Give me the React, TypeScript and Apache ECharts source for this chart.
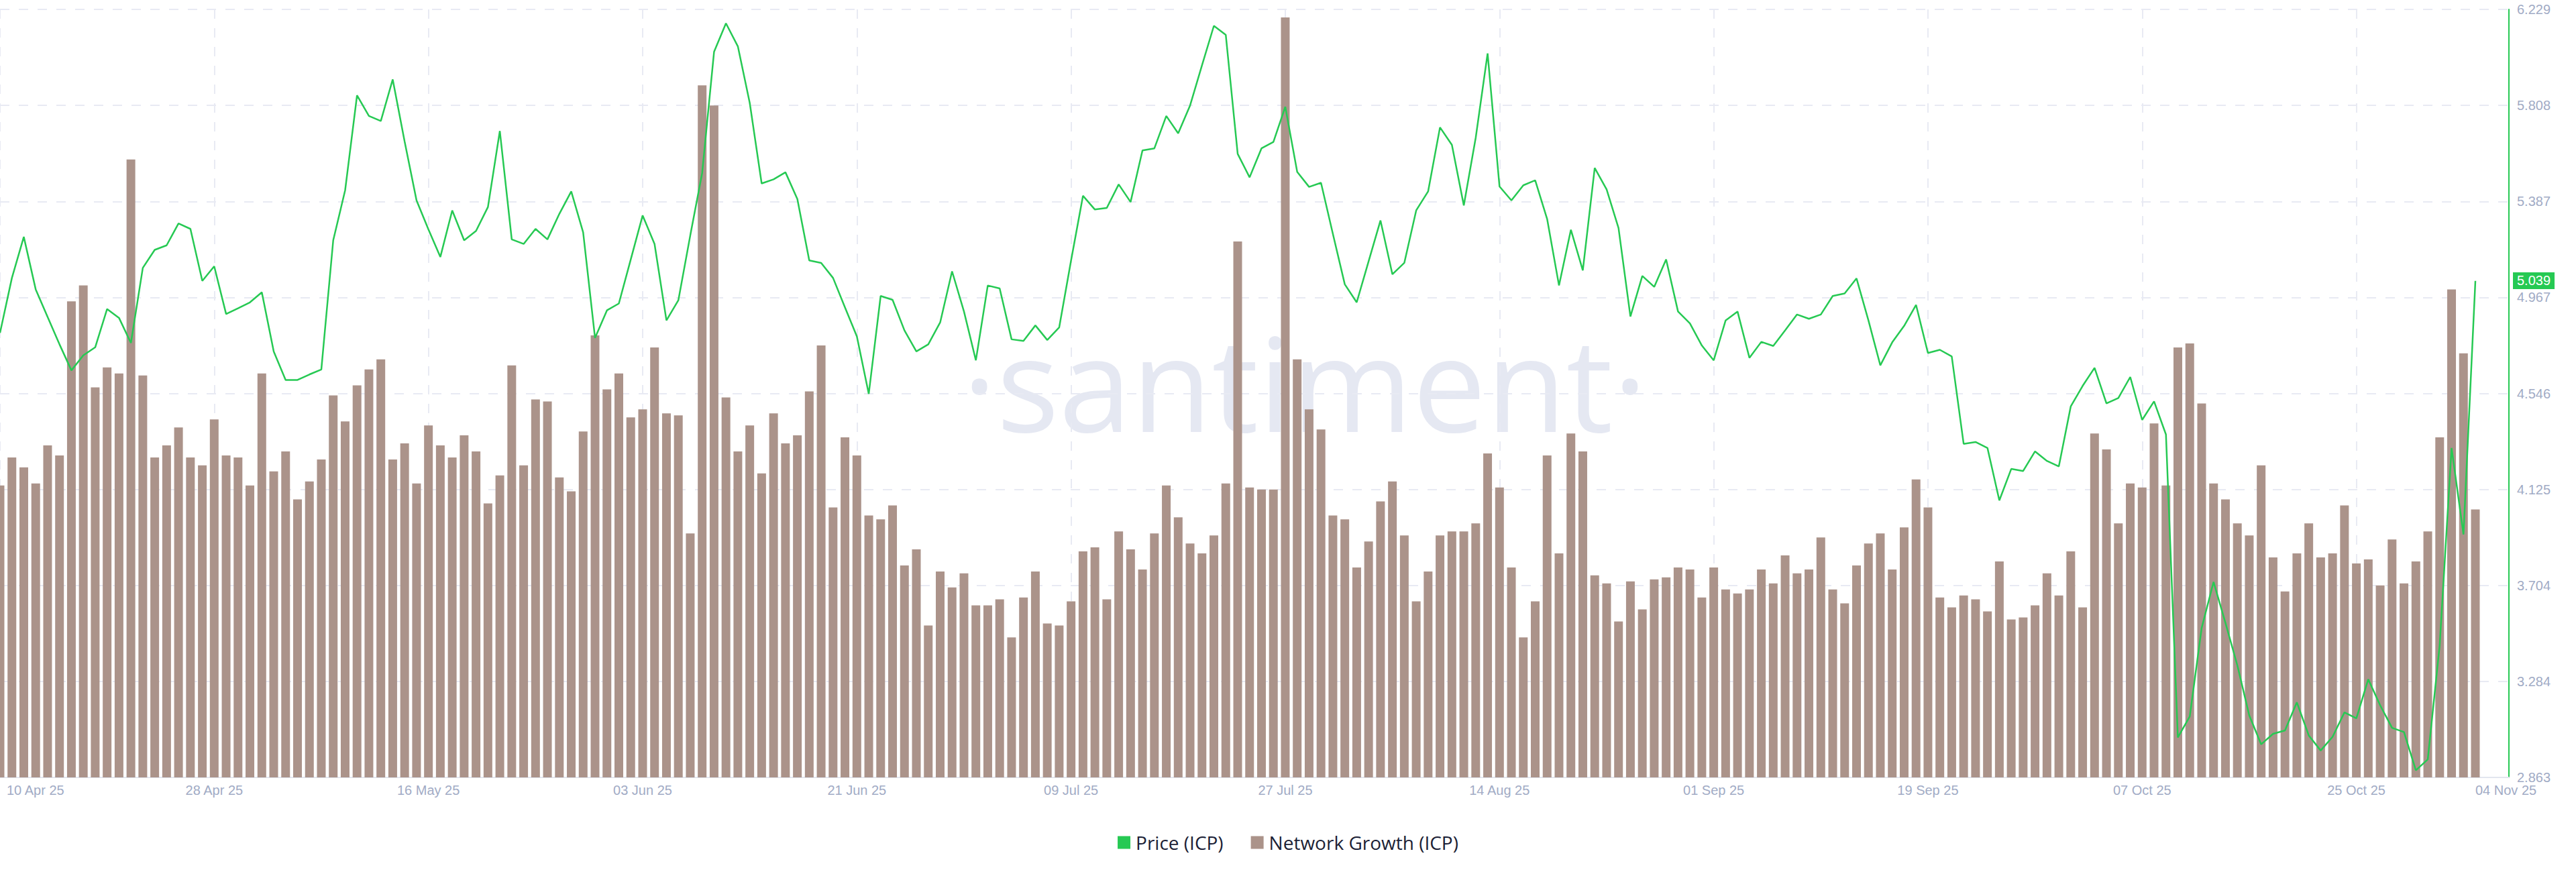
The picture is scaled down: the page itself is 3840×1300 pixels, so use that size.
import React, { useEffect, useRef } from 'react';
import * as echarts from 'echarts';

const START_DATE = Date.UTC(2025, 3, 10);
const DAY_COUNT = 209;
const MONTHS = ['Jan', 'Feb', 'Mar', 'Apr', 'May', 'Jun', 'Jul', 'Aug', 'Sep', 'Oct', 'Nov', 'Dec'];
const categories: string[] = Array.from({ length: DAY_COUNT }, (_, i) => {
  const d = new Date(START_DATE + i * 86400000);
  return `${String(d.getUTCDate()).padStart(2, '0')} ${MONTHS[d.getUTCMonth()]} ${String(d.getUTCFullYear()).slice(2)}`;
});

const priceICP: number[] = [
  4.811, 5.052, 5.232, 5.002, 4.881, 4.761, 4.647, 4.713, 4.748, 4.916,
  4.877, 4.767, 5.096, 5.175, 5.195, 5.291, 5.267, 5.039, 5.103, 4.894,
  4.919, 4.945, 4.989, 4.730, 4.605, 4.605, 4.629, 4.651, 5.217, 5.436,
  5.852, 5.762, 5.740, 5.922, 5.650, 5.392, 5.265, 5.144, 5.348, 5.217,
  5.258, 5.363, 5.696, 5.221, 5.201, 5.267, 5.221, 5.333, 5.431, 5.252,
  4.789, 4.910, 4.940, 5.133, 5.326, 5.201, 4.866, 4.954, 5.238, 5.512,
  6.043, 6.168, 6.067, 5.819, 5.466, 5.484, 5.515, 5.398, 5.129, 5.118,
  5.052, 4.923, 4.796, 4.544, 4.973, 4.956, 4.822, 4.730, 4.761, 4.857,
  5.081, 4.905, 4.691, 5.019, 5.006, 4.783, 4.776, 4.844, 4.780, 4.835,
  5.129, 5.412, 5.352, 5.359, 5.462, 5.385, 5.611, 5.620, 5.762, 5.686,
  5.808, 5.984, 6.157, 6.117, 5.596, 5.493, 5.620, 5.648, 5.802, 5.517,
  5.451, 5.469, 5.245, 5.024, 4.945, 5.125, 5.304, 5.068, 5.118, 5.348,
  5.431, 5.712, 5.635, 5.370, 5.666, 6.036, 5.453, 5.392, 5.458, 5.480,
  5.311, 5.019, 5.263, 5.085, 5.534, 5.440, 5.271, 4.883, 5.061, 5.013,
  5.133, 4.905, 4.853, 4.756, 4.691, 4.866, 4.905, 4.702, 4.772, 4.754,
  4.822, 4.892, 4.873, 4.892, 4.973, 4.984, 5.050, 4.866, 4.669, 4.770,
  4.842, 4.934, 4.723, 4.737, 4.708, 4.325, 4.333, 4.307, 4.077, 4.215,
  4.206, 4.292, 4.250, 4.226, 4.489, 4.579, 4.658, 4.502, 4.526, 4.618,
  4.430, 4.511, 4.366, 3.038, 3.130, 3.518, 3.720, 3.540, 3.354, 3.135,
  3.008, 3.054, 3.069, 3.192, 3.047, 2.981, 3.041, 3.148, 3.122, 3.293,
  3.179, 3.080, 3.062, 2.894, 2.942, 3.442, 4.307, 3.928, 5.039,
];

const networkGrowthICP: number[] = [
  146, 160, 155, 147, 166, 161, 238, 246, 195, 205,
  202, 309, 201, 160, 166, 175, 160, 156, 179, 161,
  160, 146, 202, 153, 163, 139, 148, 159, 191, 178,
  196, 204, 209, 159, 167, 147, 176, 166, 160, 171,
  163, 137, 151, 206, 156, 189, 188, 150, 143, 173,
  221, 194, 202, 180, 184, 215, 182, 181, 122, 346,
  336, 190, 163, 176, 152, 182, 167, 171, 193, 216,
  135, 170, 161, 131, 129, 136, 106, 114, 76, 103,
  95, 102, 86, 86, 89, 70, 90, 103, 77, 76,
  88, 113, 115, 89, 123, 114, 104, 122, 146, 130,
  117, 112, 121, 147, 268, 145, 144, 144, 380, 209,
  184, 174, 131, 129, 105, 118, 138, 148, 121, 88,
  103, 121, 123, 123, 127, 162, 145, 105, 70, 88,
  161, 112, 172, 163, 101, 97, 78, 98, 84, 99,
  100, 105, 104, 90, 105, 94, 92, 94, 104, 97,
  111, 102, 104, 120, 94, 87, 106, 117, 122, 104,
  125, 149, 135, 90, 85, 91, 89, 83, 108, 79,
  80, 86, 102, 91, 113, 85, 172, 164, 127, 147,
  145, 177, 146, 215, 217, 187, 147, 139, 127, 121,
  156, 110, 93, 112, 127, 110, 112, 136, 107, 109,
  96, 119, 97, 108, 123, 170, 244, 212, 134,
];

const priceTickLabels: string[] = ['2.863', '3.284', '3.704', '4.125', '4.546', '4.967', '5.387', '5.808', '6.229'];
const PRICE_MIN = 2.863;
const PRICE_MAX = 6.229;
const PRICE_STEP = (PRICE_MAX - PRICE_MIN) / 8;
const GROWTH_MAX = 384;
const LABEL_EVERY = 18;

const GREEN = '#26c953';
const BROWN = '#ab938a';
const AXIS_TEXT = '#a1abc5';
const GRID_LINE = '#e8eaf3';

export default function App() {
  const ref = useRef<HTMLDivElement>(null);
  useEffect(() => {
    if (!ref.current) return;
    const chart = echarts.init(ref.current, undefined, { renderer: 'svg' });
    const lastIdx = categories.length - 1;
    const lastPrice = priceICP[priceICP.length - 1];
    chart.setOption({
      animation: false,
      backgroundColor: '#ffffff',
      grid: [
        { left: 0, right: 150, top: 14, bottom: 141, outerBoundsMode: 'none', containLabel: false },
        { left: 0, right: 100, top: 14, bottom: 141, outerBoundsMode: 'none', containLabel: false },
      ],
      graphic: [
        {
          type: 'text',
          x: 1945,
          y: 568,
          z: -10,
          silent: true,
          style: {
            text: '·santiment·',
            fill: '#e5e8f2',
            font: '400 195px "Open Sans"',
            align: 'center',
            verticalAlign: 'middle',
            textAlign: 'center',
            textVerticalAlign: 'middle',
          },
        },
      ],
      legend: {
        data: ['Price (ICP)', 'Network Growth (ICP)'],
        left: 'center',
        top: 1237,
        icon: 'rect',
        itemWidth: 19,
        itemHeight: 19,
        itemGap: 41,
        selectedMode: false,
        textStyle: { color: '#1c1f36', fontSize: 28, fontFamily: 'Open Sans', padding: [0, 0, 0, 3] },
      },
      xAxis: [
        {
          type: 'category',
          gridIndex: 0,
          data: categories,
          boundaryGap: false,
          axisLine: { show: false },
          axisTick: { show: false },
          axisLabel: {
            interval: (i: number) => i % LABEL_EVERY === 0 || i === lastIdx,
            color: AXIS_TEXT,
            fontSize: 20,
            fontFamily: 'Liberation Sans, Arial, sans-serif',
            margin: 9,
            alignMinLabel: 'left',
            alignMaxLabel: 'left',
            hideOverlap: false,
            formatter: (v: string, i: number) => (i === 0 ? '{first|' + v + '}' : v),
            rich: { first: { padding: [0, 0, 0, 10], color: AXIS_TEXT, fontSize: 20, fontFamily: 'Liberation Sans, Arial, sans-serif' } },
          },
          splitLine: {
            show: true,
            interval: (i: number) => i % LABEL_EVERY === 0,
            lineStyle: { color: GRID_LINE, width: 2, type: [14, 14] },
          },
        },
        {
          type: 'value',
          gridIndex: 1,
          min: 0,
          max: 1,
          axisLine: { show: true, onZero: false, lineStyle: { color: '#e2e6ef', width: 2 } },
          axisTick: { show: false },
          axisLabel: { show: false },
          splitLine: { show: false },
        },
      ],
      yAxis: [
        {
          type: 'value',
          gridIndex: 0,
          position: 'right',
          offset: 50,
          min: PRICE_MIN,
          max: PRICE_MAX,
          interval: PRICE_STEP,
          axisLine: { show: true, lineStyle: { color: GREEN, width: 2 } },
          axisTick: { show: false },
          splitLine: { show: false },
          axisLabel: {
            color: AXIS_TEXT,
            fontSize: 20,
            fontFamily: 'Liberation Sans, Arial, sans-serif',
            margin: 12,
            formatter: (v: number) => priceTickLabels[Math.round((v - PRICE_MIN) / PRICE_STEP)] ?? '',
          },
        },
        { type: 'value', gridIndex: 0, position: 'left', min: 0, max: GROWTH_MAX, show: false, splitLine: { show: false } },
        {
          type: 'value',
          gridIndex: 1,
          position: 'right',
          min: PRICE_MIN,
          max: PRICE_MAX,
          interval: PRICE_STEP,
          axisLine: { show: false },
          axisTick: { show: false },
          axisLabel: { show: false },
          splitLine: { show: true, lineStyle: { color: GRID_LINE, width: 2, type: [14, 14] } },
        },
      ],
      series: [
        {
          name: 'Network Growth (ICP)',
          type: 'bar',
          xAxisIndex: 0,
          yAxisIndex: 1,
          data: networkGrowthICP,
          barWidth: 13,
          clip: true,
          itemStyle: { color: BROWN },
          silent: true,
        },
        {
          name: 'Price (ICP)',
          type: 'line',
          xAxisIndex: 0,
          yAxisIndex: 0,
          data: priceICP,
          showSymbol: false,
          symbol: 'none',
          lineStyle: { color: GREEN, width: 2.5 },
          itemStyle: { color: GREEN },
          silent: true,
          z: 5,
          markLine: {
            silent: true,
            symbol: ['none', 'none'],
            lineStyle: { color: 'rgba(0,0,0,0)', width: 0, type: 'solid' },
            data: [{ yAxis: lastPrice }],
            label: {
              show: true,
              position: 'end',
              distance: 56,
              formatter: () => lastPrice.toFixed(3),
              color: '#ffffff',
              backgroundColor: GREEN,
              opacity: 1,
              fontSize: 20,
              fontFamily: 'Liberation Sans, Arial, sans-serif',
              padding: [3, 6, 2, 6],
            },
          },
        },
      ],
    });
    return () => chart.dispose();
  }, []);
  return <div ref={ref} style={{ position: 'fixed', left: 0, top: 0, width: 3840, height: 1300 }} />;
}
